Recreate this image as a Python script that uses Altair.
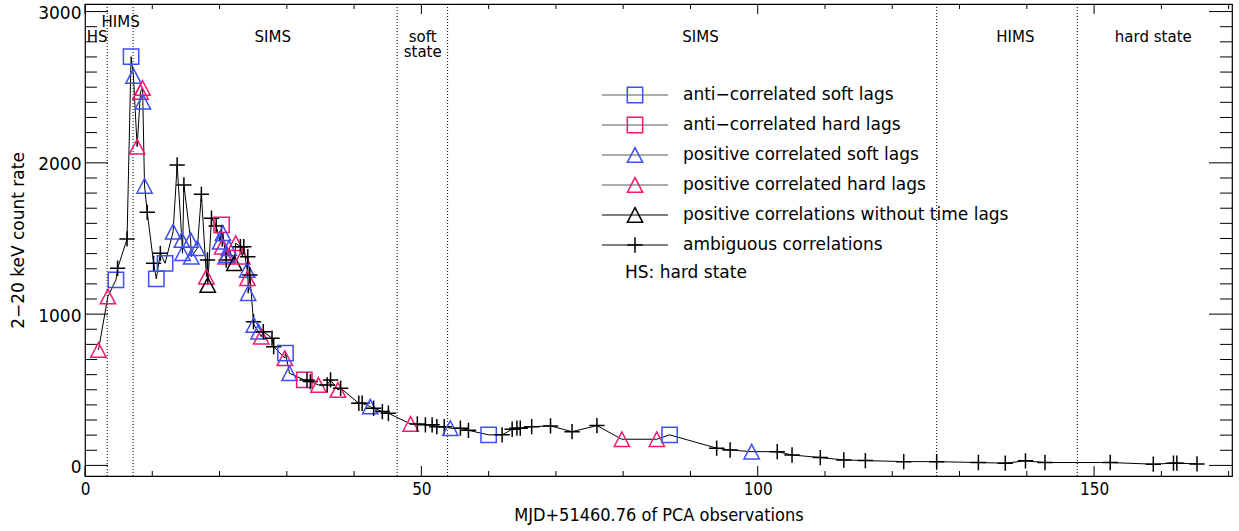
import altair as alt
import pandas as pd

# Observation epochs (MJD - 51460.76), 2-20 keV PCA count rate and lag class
# AS: anti-correlated soft lags, AH: anti-correlated hard lags,
# PS: positive correlated soft lags, PH: positive correlated hard lags,
# PN: positive correlations without time lags, AM: ambiguous correlations
t_obs = [2.0, 3.4, 4.6, 4.85, 6.25, 6.85, 7.2, 7.75, 8.25, 8.55,
         8.6, 8.85, 9.25, 10.2, 10.6, 11.2, 11.9, 13.1, 13.7, 14.4,
         14.5, 14.7, 15.7, 15.8, 16.7, 17.3, 18.05, 18.2, 18.25, 18.8,
         19.5, 20.1, 20.3, 20.4, 20.5, 20.9, 21.0, 21.1, 21.4, 22.2,
         22.4, 23.1, 23.4, 23.6, 24.1, 24.15, 24.2, 24.25, 24.5, 25.05,
         25.1, 25.8, 26.2, 26.5, 27.8, 28.05, 29.7, 29.8, 30.4, 32.6,
         33.0, 33.5, 34.7, 36.0, 36.5, 37.6, 38.0, 40.7, 41.2, 42.4,
         42.9, 44.2, 45.1, 48.4, 49.4, 50.6, 51.6, 52.3, 53.4, 54.3,
         55.8, 57.0, 60.0, 62.0, 63.5, 64.2, 64.7, 66.4, 69.2, 72.4,
         76.1, 79.8, 85.0, 86.9, 93.9, 95.9, 99.1, 102.9, 105.1, 109.3,
         112.8, 116.0, 121.7, 126.6, 132.8, 136.8, 139.8, 142.7, 152.4, 158.8,
         161.8, 162.3, 165.3]
count_rate = [763, 1116, 1226, 1303, 1497, 2702, 2574, 2107, 2469, 2495,
              2404, 1847, 1673, 1336, 1233, 1402, 1336, 1545, 1986, 1490,
              1402, 1854, 1490, 1380, 1436, 1792, 1248, 1358, 1193, 1634,
              1583, 1479, 1590, 1446, 1535, 1380, 1358, 1391, 1436, 1336,
              1469, 1446, 1380, 1446, 1292, 1237, 1380, 1138, 1259, 950,
              929, 884, 851, 884, 841, 785, 709, 742, 609, 565,
              565, 554, 532, 532, 565, 499, 510, 411, 411, 389,
              378, 356, 345, 274, 274, 268, 268, 256, 256, 246,
              246, 232, 202, 202, 239, 246, 246, 256, 261, 223,
              263, 173, 173, 202, 114, 102, 91, 91, 69, 52,
              36, 32, 25, 25, 19, 15, 30, 19, 19, 8,
              15, 15, 10]
lag_class = ["PH", "PH", "AS", "AM", "AM", "AS", "PS", "PH", "PH", "PH",
             "PS", "PS", "AM", "AM", "AS", "AM", "AS", "PS", "AM", "PS",
             "PS", "AM", "PS", "PS", "PS", "AM", "PH", "AM", "PN", "AM",
             "AM", "PS", "AH", "PH", "PS", "PH", "AM", "PS", "PS", "PN",
             "PH", "AM", "PH", "AM", "PS", "PH", "AM", "PS", "AM", "AM",
             "PS", "PS", "PH", "AM", "AM", "AM", "PH", "AS", "PS", "AH",
             "AM", "AM", "PH", "AM", "AM", "PH", "AM", "AM", "AM", "PS",
             "AM", "AM", "AM", "PH", "AM", "AM", "AM", "AM", "AM", "PS",
             "AM", "AM", "AS", "AM", "AM", "AM", "AM", "AM", "AM", "AM",
             "AM", "PH", "PH", "AS", "AM", "AM", "PS", "AM", "AM", "AM",
             "AM", "AM", "AM", "AM", "AM", "AM", "AM", "AM", "AM", "AM",
             "AM", "AM", "AM"]
assert len(t_obs) == len(count_rate) == len(lag_class)

# Legend entries
class_codes = ["AS", "AH", "PS", "PH", "PN", "AM"]
class_labels = ["anti−correlated soft lags", "anti−correlated hard lags",
                "positive correlated soft lags", "positive correlated hard lags",
                "positive correlations without time lags", "ambiguous correlations"]

# Spectral state boundaries and state names
state_bounds = [3.3, 7.15, 46.4, 53.9, 126.6, 147.5]
state_names = ["HS", "HIMS", "SIMS", "soft", "state", "SIMS", "HIMS", "hard state"]
state_name_x = [1.8, 5.3, 27.9, 50.2, 50.2, 91.5, 138.3, 158.8]
state_name_row = [1, 0, 1, 1, 2, 1, 1, 1]

BLUE = "#3d4ef2"
PINK = "#f0196f"
class_colors = [BLUE, PINK, BLUE, PINK, "black", "black"]
SQUARE = "M-1,-1L1,-1L1,1L-1,1Z"
TRIANGLE = "M-1,0.95L0,-0.95L1,0.95Z"
PLUS = "M-1,0L1,0M0,-1L0,1"
class_shapes = [SQUARE, SQUARE, TRIANGLE, TRIANGLE, TRIANGLE, PLUS]

W, H = 1147, 472
X_DOM = [0, 170.5]
Y_DOM = [-70, 3050]
FONT = "DejaVu Sans"
CFONT = "DejaVu Sans Condensed"

xs = alt.Scale(domain=X_DOM, nice=False, zero=False)
ys = alt.Scale(domain=Y_DOM, nice=False, zero=False)
x_axis = alt.Axis(
    values=[0, 50, 100, 150], ticks=False, domain=False, grid=False, format="d",
    labelFont=CFONT, labelFontSize=17, labelPadding=5, labelFlush=False,
    labelColor="black", title="MJD+51460.76 of PCA observations",
    titleFont=CFONT, titleFontSize=18, titleFontWeight="normal",
    titleColor="black", titlePadding=9)
y_axis = alt.Axis(
    values=[0, 1000, 2000, 3000], ticks=False, domain=False, grid=False, format="d",
    labelFont=FONT, labelFontSize=17, labelPadding=4, labelOffset=2,
    labelColor="black", title="2−20 keV count rate",
    titleFont=FONT, titleFontSize=17, titleFontWeight="normal",
    titleColor="black", titlePadding=10)


def xq(field):
    return alt.X(field, type="quantitative", scale=xs, axis=x_axis)


def yq(field):
    return alt.Y(field, type="quantitative", scale=ys, axis=y_axis)


col = alt.Color("cls:N", scale=alt.Scale(domain=class_codes, range=class_colors), legend=None)
shp = alt.Shape("cls:N", scale=alt.Scale(domain=class_codes, range=class_shapes), legend=None)

obs = pd.DataFrame({"t": t_obs, "rate": count_rate, "cls": lag_class})

curve = alt.Chart(obs).mark_line(color="black", strokeWidth=1).encode(x=xq("t"), y=yq("rate"))
markers = alt.Chart(obs).mark_point(filled=False, strokeWidth=1.5, size=235, opacity=1).encode(
    x=xq("t"), y=yq("rate"), color=col, shape=shp)

# State boundaries
bounds = alt.Chart(pd.DataFrame({"b": state_bounds})).mark_rule(
    color="black", strokeWidth=1, strokeDash=[1, 2]).encode(
    x=xq("b"), y=alt.value(0), y2=alt.value(H))

states = pd.DataFrame({"x": state_name_x, "name": state_names, "row": state_name_row})
states["py"] = 18 + 15 * states["row"]
state_text = alt.Chart(states).mark_text(font=FONT, fontSize=15, color="black", baseline="middle").encode(
    x=xq("x"), y=alt.Y("py:Q", scale=None), text="name:N")

# Inward ticks on all four sides
y_major = [0, 1000, 2000, 3000]
y_minor = [v for v in range(100, 3000, 100) if v % 1000]
x_major = [0, 50, 100, 150]
x_minor = [v for v in range(10, 171, 10) if v % 50]


def yticks(vals, length):
    d = pd.DataFrame({"v": vals})
    left = alt.Chart(d).mark_rule(color="black").encode(
        y=yq("v"), x=alt.value(0), x2=alt.value(length))
    right = alt.Chart(d).mark_rule(color="black").encode(
        y=yq("v"), x=alt.value(W), x2=alt.value(W - length))
    return [left, right]


def xticks(vals, length):
    d = pd.DataFrame({"v": vals})
    bottom = alt.Chart(d).mark_rule(color="black").encode(
        x=xq("v"), y=alt.value(H), y2=alt.value(H - length))
    top = alt.Chart(d).mark_rule(color="black").encode(
        x=xq("v"), y=alt.value(0), y2=alt.value(length))
    return [bottom, top]


ticks = yticks(y_major, 23) + yticks(y_minor, 12) + xticks(x_major, 10) + xticks(x_minor, 5)

# Legend block
leg = pd.DataFrame({"cls": class_codes, "label": class_labels, "row": range(6)})
leg["ly"] = 91 + 30 * leg["row"]
leg["lc"] = ["#5a5a5a"] * 4 + ["black"] * 2
leg_lines = alt.Chart(leg).mark_rule(strokeWidth=1.2).encode(
    y=alt.Y("ly:Q", scale=None), x=alt.value(517), x2=alt.value(583),
    color=alt.Color("lc:N", scale=None, legend=None))
leg_marks = alt.Chart(leg).mark_point(filled=False, strokeWidth=1.5, size=235, opacity=1).encode(
    y=alt.Y("ly:Q", scale=None), x=alt.value(550), color=col, shape=shp)
leg_text = alt.Chart(leg).mark_text(font=FONT, fontSize=17, color="black", align="left",
                                    baseline="middle").encode(
    y=alt.Y("ly:Q", scale=None), x=alt.value(598), text="label:N")
hs_note = alt.Chart(pd.DataFrame({"s": ["HS: hard state"], "ly": [269]})).mark_text(
    font=FONT, fontSize=17, color="black", align="left", baseline="middle").encode(
    y=alt.Y("ly:Q", scale=None), x=alt.value(540), text="s:N")

chart = alt.layer(
    curve, bounds, *ticks, markers, state_text, leg_lines, leg_marks, leg_text, hs_note
).resolve_scale(color="independent").properties(
    width=W, height=H, autosize="none",
    padding={"left": 85, "top": 4, "right": 7, "bottom": 55},
    background="white",
).configure_view(stroke="black", strokeWidth=1.2)

chart.save("out.html", embed_options={"renderer": "svg", "actions": False})
